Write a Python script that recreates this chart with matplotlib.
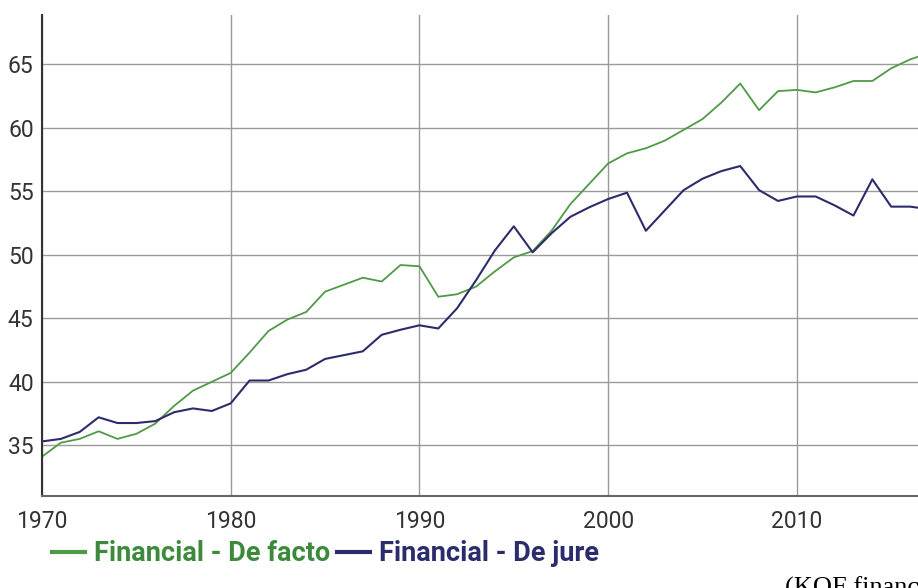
import matplotlib
matplotlib.use("Agg")
import matplotlib.pyplot as plt

years = list(range(1970, 2018))

de_facto = [34.1, 35.2, 35.5, 36.1, 35.5, 35.9, 36.7, 38.1, 39.3, 40.0,
            40.7, 42.3, 44.0, 44.9, 45.5, 47.1, 47.65, 48.2, 47.9, 49.2,
            49.1, 46.7, 46.9, 47.5, 48.7, 49.8, 50.3, 51.9, 54.0, 55.6,
            57.2, 58.0, 58.4, 59.0, 59.85, 60.7, 62.0, 63.5, 61.4, 62.9,
            63.0, 62.8, 63.2, 63.7, 63.7, 64.7, 65.4, 65.9]

de_jure = [35.3, 35.5, 36.05, 37.2, 36.75, 36.75, 36.9, 37.6, 37.9, 37.7,
           38.3, 40.1, 40.1, 40.6, 40.95, 41.8, 42.1, 42.4, 43.7, 44.1,
           44.45, 44.2, 45.8, 48.0, 50.35, 52.25, 50.2, 51.7, 53.0, 53.75,
           54.4, 54.9, 51.9, 53.5, 55.1, 56.0, 56.6, 57.0, 55.1, 54.25,
           54.6, 54.6, 53.9, 53.1, 55.95, 53.8, 53.8, 53.6]

green = "#4f9a45"
navy = "#2c2c6c"

fig = plt.figure(figsize=(9.18, 5.88), dpi=100)
ax = fig.add_axes([42 / 918, 92 / 588, 1 - 42 / 918, 481 / 588])

ax.plot(years, de_facto, color=green, lw=1.3, label="Financial - De facto")
ax.plot(years, de_jure, color=navy, lw=1.5, label="Financial - De jure")

ax.set_xlim(1970, 2016.42)
ax.set_ylim(31, 68.9)
ax.set_xticks([1970, 1980, 1990, 2000, 2010])
ax.set_yticks([35, 40, 45, 50, 55, 60, 65])
ax.grid(True, color="#9a9a9a", lw=1)
ax.set_axisbelow(True)
ax.tick_params(length=0, labelsize=16.5, labelcolor="#333333")
ax.tick_params(axis="y", pad=6)
ax.tick_params(axis="x", pad=10)
for lab in ax.get_xticklabels() + ax.get_yticklabels():
    lab.set_fontfamily("Roboto")

ax.spines["top"].set_visible(False)
ax.spines["right"].set_visible(False)
ax.spines["left"].set_color("#333333")
ax.spines["left"].set_linewidth(1.5)
ax.spines["bottom"].set_color("#666666")
ax.spines["bottom"].set_linewidth(1.5)

leg = fig.legend(loc="center left", bbox_to_anchor=(0.042, 0.058), ncol=2,
                 frameon=False, handlelength=1.2, handletextpad=0.35,
                 columnspacing=0.25, borderpad=0,
                 prop={"family": "Roboto", "weight": "bold", "size": 19.5})
for line in leg.get_lines():
    line.set_linewidth(3)
for txt, c in zip(leg.get_texts(), ["#3d8a3d", navy]):
    txt.set_color(c)

fig.text(785 / 918, 11 / 588, "(KOF financial globalisation)", family="Liberation Serif",
         fontsize=19, va="top", ha="left", color="black")

fig.savefig("out.png", dpi=100)
